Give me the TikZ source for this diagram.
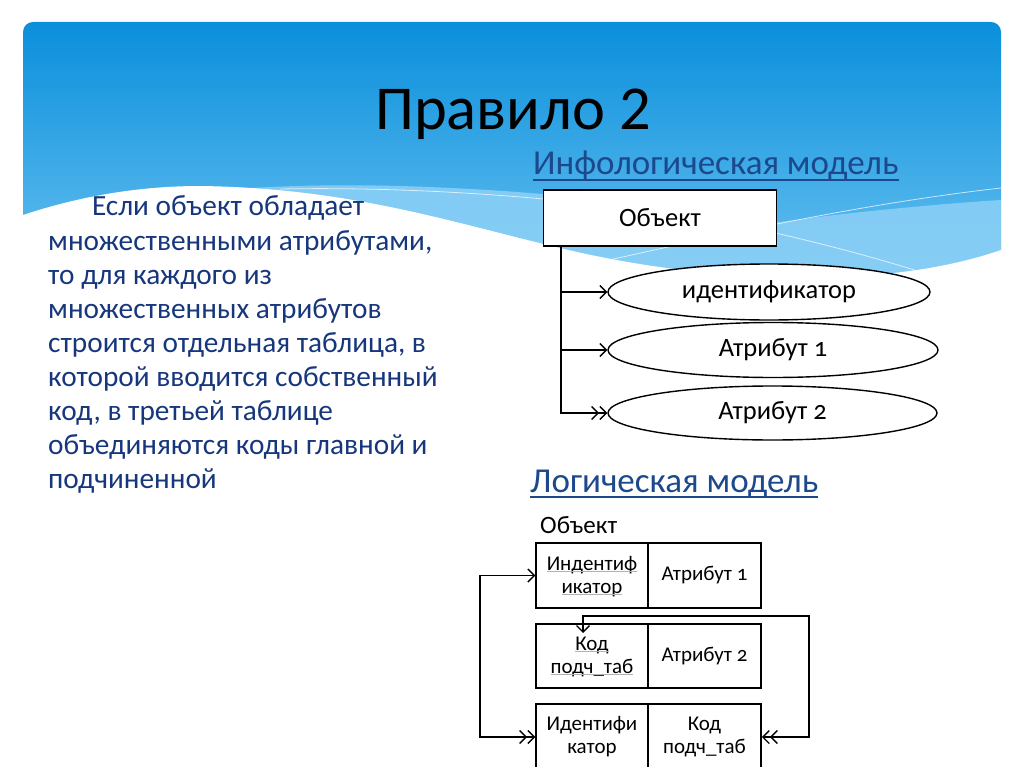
\documentclass[tikz,border=0pt]{standalone}
\usepackage{fontspec}
\setmainfont{Carlito}
\newfontfamily\diagfont[Numbers=OldStyle]{Carlito}
\usetikzlibrary{arrows.meta,shapes.geometric}
\definecolor{skytop}{RGB}{10,143,219}
\definecolor{skybot}{RGB}{110,196,242}
\definecolor{band}{RGB}{140,208,246}
\definecolor{bodyblue}{RGB}{23,55,125}
\definecolor{headblue}{RGB}{28,72,140}
\tikzset{
  box/.style={draw=black,line width=1.6pt,fill=white,inner sep=0pt,font=\diagfont\fontsize{26.5}{30}\selectfont},
  oval/.style={ellipse,draw=black,line width=1.4pt,fill=white,inner sep=0pt,font=\diagfont\fontsize{26.5}{30}\selectfont},
  cell/.style={draw=black,line width=1.5pt,fill=white,inner sep=0pt,align=center,font=\diagfont\fontsize{21}{23}\selectfont},
  bodyline/.style={anchor=base west,inner sep=0pt,text=bodyblue,font=\fontsize{29.3}{34}\selectfont},
  head/.style={anchor=base west,inner sep=0pt,text=headblue,font=\fontsize{35}{40}\selectfont},
  conn/.style={line width=1.6pt,draw=black},
  tip/.tip={Straight Barb[length=6.5pt,width=13pt,line width=1.4pt]},
  dtip/.tip={Straight Barb[length=6.5pt,width=13pt,line width=1.4pt]Straight Barb[length=6.5pt,width=13pt,line width=1.4pt]},
}
\newcommand{\gul}[1]{{\color{black!30}\underbar{\textcolor{black}{#1}}}}
\begin{document}
\begin{tikzpicture}[x=1pt,y=-1pt]
\useasboundingbox (0,0) rectangle (1024,767);
\fill[white] (0,0) rectangle (1024,767);
% sky background
\begin{scope}
\clip[rounded corners=10pt] (23,22) rectangle (1001,820);
\shade[top color=skytop,bottom color=skybot] (23,22) rectangle (1001,300);
\fill[band,opacity=0.85] (23,225) .. controls (120,195) and (250,182) .. (400,186)
   .. controls (600,192) and (700,215) .. (780,222)
   .. controls (850,212) and (950,203) .. (1001,200) -- (1001,300) -- (23,300) -- cycle;
\draw[white,opacity=0.7,line width=0.8pt] (280,189) .. controls (500,185) and (700,215) .. (780,234) .. controls (840,248) and (890,262) .. (930,275);
\draw[white,opacity=0.7,line width=0.8pt] (600,262) .. controls (700,240) and (850,205) .. (1001,188);
\end{scope}
\fill[white] (10,219) -- (23,215) .. controls (80,196) and (140,186) .. (200,186)
   .. controls (350,188) and (450,222) .. (560,248)
   .. controls (700,282) and (880,292) .. (1001,250) -- (1020,244) -- (1020,330) -- (10,330) -- cycle;
% title
\node[anchor=base west,inner sep=0pt,font=\fontsize{62.5}{70}\selectfont] (title) at (375,130) {Правило 2};
% headings
\node[head] (info) at (533,175) {Инфологическая модель};
\draw[headblue,line width=1.2pt] ([yshift=-5pt]info.base west) -- ([yshift=-5pt]info.base east);
\node[head] (logic) at (530,492) {Логическая модель};
\draw[headblue,line width=1.2pt] ([yshift=-5pt]logic.base west) -- ([yshift=-5pt]logic.base east);
% body text
\node[bodyline] (b1) at (92,216) {Если объект обладает};
\node[bodyline] (b2) at (48,250) {множественными атрибутами,};
\node[bodyline] (b3) at (48,284) {то для каждого из};
\node[bodyline] (b4) at (48,318) {множественных атрибутов};
\node[bodyline] (b5) at (48,352) {строится отдельная таблица, в};
\node[bodyline] (b6) at (48,386) {которой вводится собственный};
\node[bodyline] (b7) at (48,420) {код, в третьей таблице};
\node[bodyline] (b8) at (48,454) {объединяются коды главной и};
\node[bodyline] (b9) at (48,488) {подчиненной};
% infological model
\node[box,minimum width=233,minimum height=56] (obj) at (660,218) {Объект};
\node[oval,minimum width=322,minimum height=56] (e1) at (769,292) {идентификатор};
\node[oval,minimum width=330,minimum height=55] (e2) at (773,350) {Атрибут 1};
\node[oval,minimum width=329,minimum height=54] (e3) at (772.5,413) {Атрибут 2};
\coordinate (t) at (561,246);
\coordinate (j1) at (t |- e1.west);
\coordinate (j2) at (t |- e2.west);
\draw[conn,-dtip] (t) |- (e3.west);
\draw[conn,-tip] (j1) -- (e1.west);
\draw[conn,-tip] (j2) -- (e2.west);
% logical model
\node[anchor=base west,inner sep=0pt,font=\diagfont\fontsize{25}{28}\selectfont] (objlbl) at (540,533) {Объект};
\node[cell,minimum width=112,minimum height=65] (t1l) at (592,575.5) {\gul{Индентиф}\\\gul{икатор}};
\node[cell,minimum width=113,minimum height=65] (t1r) at (704.5,575.5) {Атрибут 1};
\node[cell,minimum width=112,minimum height=64] (t2l) at (592,656) {\gul{Код}\\\gul{подч\_таб}};
\node[cell,minimum width=113,minimum height=64] (t2r) at (704.5,656) {Атрибут 2};
\node[cell,minimum width=112,minimum height=66] (t3l) at (592,737) {Идентифи\\катор};
\node[cell,minimum width=113,minimum height=66] (t3r) at (704.5,737) {Код\\подч\_таб};
\coordinate (lx) at (480,737);
\coordinate (rc) at (809,616);
\coordinate (k) at (583,633);
\draw[conn,tip-dtip] (t1l.west) -| (lx) -- (t3l.west);
\draw[conn,dtip-tip] (t3r.east) -| (rc) -| (k);
\end{tikzpicture}
\end{document}
